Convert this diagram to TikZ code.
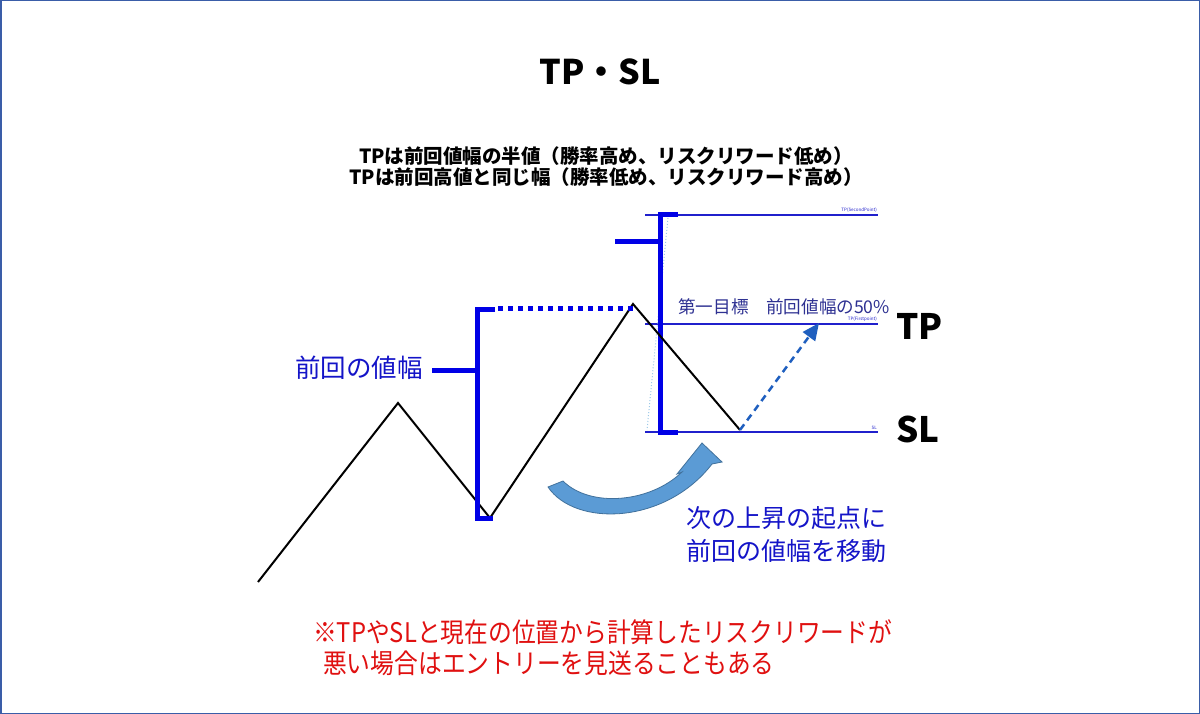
\documentclass[tikz,border=0pt]{standalone}
\usepackage{fontspec}
\setmainfont{Noto Sans CJK JP}
\newfontfamily\redjp[FakeStretch=0.88]{Noto Sans CJK JP}
\usetikzlibrary{arrows.meta}
\definecolor{bracketblue}{HTML}{0000E6}
\definecolor{lineblue}{HTML}{2020CC}
\definecolor{textblue}{HTML}{1414C8}
\definecolor{navytext}{HTML}{2E3192}
\definecolor{arrowblue}{HTML}{1F5FBF}
\definecolor{bigfill}{HTML}{5B9BD5}
\definecolor{bigline}{HTML}{41719C}
\definecolor{redtext}{HTML}{E01010}
\definecolor{framecol}{HTML}{3A5DA8}
\definecolor{faintcyan}{HTML}{9CC8E8}
\tikzset{
  frame/.style={draw=framecol,line width=1.5pt},
  bracket/.style={draw=bracketblue,line width=5pt,miter limit=10},
  level/.style={draw=lineblue,line width=2.2pt},
  price/.style={draw=black,line width=2pt,line join=miter},
  tiny/.style={text=lineblue,font=\fontsize{4.5}{5}\selectfont,inner sep=0pt},
  bluetext/.style={text=textblue,font=\fontsize{25}{28}\selectfont,inner sep=0pt,anchor=west},
  redline/.style={text=redtext,font=\redjp\fontsize{27}{30}\selectfont,inner sep=0pt,anchor=west},
  big/.style={text=black,font=\fontsize{35}{40}\selectfont\bfseries,inner sep=0pt,anchor=west}
}
\begin{document}
\begin{tikzpicture}[x=1pt,y=-1pt]
\useasboundingbox (0,0) rectangle (1200,714);
\fill[white] (0,0) rectangle (1200,714);
\draw[frame] (0.75,0.75) rectangle (1199.25,713.25);

% titles
\node[font=\fontsize{34}{40}\selectfont\bfseries,inner sep=0pt] (title) at (600,72) {TP・SL};
\node[align=center,font=\fontsize{19.5}{21}\selectfont\bfseries,inner sep=0pt] (head) at (606,167)
  {TPは前回値幅の半値（勝率高め、リスクリワード低め）\\TPは前回高値と同じ幅（勝率低め、リスクリワード高め）};

% price points
\coordinate (p0) at (258,582);
\coordinate (p1) at (398,403);
\coordinate (p2) at (490,518);
\coordinate (p3) at (633,304);
\coordinate (p4) at (740,430);
\coordinate (p5) at (819,323);

% level lines
\coordinate (l1a) at (645,215); \coordinate (l1b) at (878,215);
\coordinate (l2a) at (645,324); \coordinate (l2b) at (878,324);
\coordinate (l3a) at (645,432); \coordinate (l3b) at (878,432);
\draw[level] (l1a) -- (l1b);
\draw[level] (l2a) -- (l2b);
\draw[level] (l3a) -- (l3b);
\node[tiny,anchor=south east] (tpsec) at (877,213) {TP(SecondPoint)};
\node[tiny,anchor=south east] (tpfirst) at (877,322) {TP(Firstpoint)};
\node[tiny,anchor=south east] (slsmall) at (877,430) {SL};

% faint dotted guide
\coordinate (g1) at (668,218); \coordinate (g2) at (647,430);
\draw[faintcyan,line width=1pt,dotted] (g1) -- (g2);

% right bracket
\coordinate (rb1) at (678,215); \coordinate (rb2) at (660,215);
\coordinate (rb3) at (660,432); \coordinate (rb4) at (678,432);
\coordinate (rt1) at (615,242); \coordinate (rt2) at (660,242);
\draw[bracket] (rb1) -- (rb2) -- (rb3) -- (rb4);
\draw[bracket] (rt1) -- (rt2);

% price path
\draw[price] (p0) -- (p1) -- (p2) -- (p3) -- (p4);

% left bracket
\coordinate (lb1) at (495,309); \coordinate (lb2) at (477,309);
\coordinate (lb3) at (477,518); \coordinate (lb4) at (493,518);
\coordinate (lt1) at (432,370); \coordinate (lt2) at (477,370);
\coordinate (dt1) at (498,308); \coordinate (dt2) at (633,308);
\draw[bracket] (lb1) -- (lb2) -- (lb3) -- (lb4);
\draw[bracket] (lt1) -- (lt2);
\draw[draw=bracketblue,line width=5pt,dash pattern=on 5pt off 5pt] (dt1) -- (dt2);

% dashed arrow to TP
\draw[arrowblue,line width=2.5pt,dash pattern=on 7pt off 5pt,-{Triangle[length=17pt,width=15pt]}] (p4) -- (p5);

% labels
\node[text=textblue,font=\fontsize{25.5}{28}\selectfont,inner sep=0pt,anchor=east] (prev) at (423,368) {前回の値幅};
\node[text=navytext,font=\fontsize{17.6}{20}\selectfont,inner sep=0pt,anchor=west] (goal) at (678,307) {第一目標　前回値幅の50\%};
\node[big] (tp) at (896,326) {TP};
\node[big] (sl) at (896,429) {SL};

% big curved arrow
\coordinate (c1) at (563,481);
\coordinate (c2) at (548,487);
\coordinate (c3) at (712,464);
\coordinate (c4) at (722,462);
\coordinate (c5) at (702,443);
\coordinate (c6) at (677,474);
\coordinate (c7) at (682,472);
\filldraw[fill=bigfill,draw=bigline,line width=0.8pt,line join=miter]
  (c1) -- (c2) .. controls (575,527) and (665,525) .. (c3) -- (c4) -- (c5) -- (c6) -- (c7)
  .. controls (650,503) and (590,508) .. (c1) -- cycle;

\node[bluetext] (move1) at (686,518) {次の上昇の起点に};
\node[bluetext] (move2) at (686,551) {前回の値幅を移動};

% red note
\node[redline] (note1) at (313,632) {※TPやSLと現在の位置から計算したリスクリワードが};
\node[redline] (note2) at (323,663) {悪い場合はエントリーを見送ることもある};
\end{tikzpicture}
\end{document}
